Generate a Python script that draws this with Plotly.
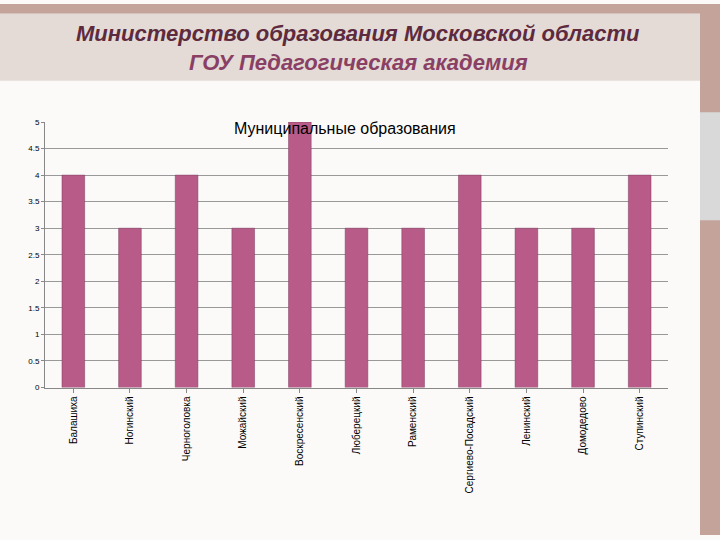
import plotly.graph_objects as go

categories = ["Балашиха", "Ногинский", "Черноголовка", "Можайский", "Воскресенский",
              "Люберецкий", "Раменский", "Сергиево-Посадский", "Ленинский",
              "Домодедово", "Ступинский"]
values = [4, 3, 4, 3, 5, 3, 3, 4, 3, 3, 4]
yticks = [0, 0.5, 1, 1.5, 2, 2.5, 3, 3.5, 4, 4.5, 5]
ytick_labels = ["0", "0.5", "1", "1.5", "2", "2.5", "3", "3.5", "4", "4.5", "5"]

fig = go.Figure(go.Bar(x=categories, y=values, marker_color="#b85b88",
                       marker_line_color="#7a3a5a", marker_line_width=0.5))

shapes = [
    dict(type="rect", xref="paper", yref="paper", x0=0, x1=1, y0=1-10/540, y1=1,
         fillcolor="#c4a39b", line_width=0, layer="below"),
    dict(type="rect", xref="paper", yref="paper", x0=0, x1=700/720, y0=1-78/540, y1=1-10/540,
         fillcolor="#e4dbd6", line_width=0, layer="below"),
    dict(type="rect", xref="paper", yref="paper", x0=700/720, x1=1, y0=0, y1=1,
         fillcolor="#c4a39b", line_width=0, layer="below"),
    dict(type="rect", xref="paper", yref="paper", x0=700/720, x1=1, y0=1-220/540, y1=1-110/540,
         fillcolor="#d9d9d9", line_width=0, layer="below"),
]

fig.update_layout(
    width=720, height=540, margin=dict(l=0, r=0, t=0, b=0),
    paper_bgcolor="#fbfaf9", plot_bgcolor="rgba(0,0,0,0)",
    shapes=shapes, bargap=0.6, showlegend=False,
    font=dict(family="Liberation Sans", color="#000"),
    xaxis=dict(domain=[45/720, 668/720], tickangle=-90, tickfont=dict(size=10),
               showline=True, linecolor="#888", ticks="outside", ticklen=4, tickcolor="#888"),
    yaxis=dict(domain=[1-390/540, 1-120/540], range=[0, 5], tickvals=yticks, ticktext=ytick_labels,
               tickfont=dict(size=8), showgrid=True, gridcolor="#999", gridwidth=1,
               showline=True, linecolor="#888", ticks="outside", ticklen=3, tickcolor="#888",
               zeroline=False),
    annotations=[
        dict(text="<i><b>Министерство образования Московской области</b></i>", xref="paper", yref="paper",
             x=358/720, y=1-30/540, showarrow=False, font=dict(size=22, color="#5e2a3e", family="Liberation Sans"),
             xanchor="center", yanchor="middle"),
        dict(text="<i><b>ГОУ Педагогическая академия</b></i>", xref="paper", yref="paper",
             x=358/720, y=1-59/540, showarrow=False, font=dict(size=22, color="#8a3f64", family="Liberation Sans"),
             xanchor="center", yanchor="middle"),
        dict(text="Муниципальные образования", xref="paper", yref="paper",
             x=345/720, y=1-127/540, showarrow=False, font=dict(size=16, color="#000"),
             xanchor="center", yanchor="middle"),
    ],
)
fig.write_html("out.html", config={"displayModeBar": False},
               post_script="document.body.style.margin='0';")
